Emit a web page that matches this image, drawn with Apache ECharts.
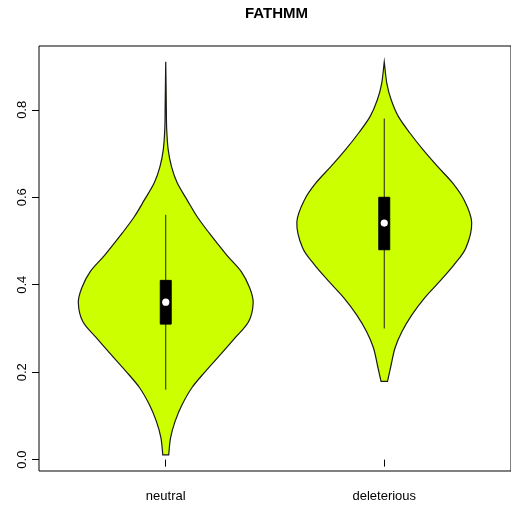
<!DOCTYPE html>
<html><head><meta charset="utf-8">
<script src="https://cdn.jsdelivr.net/npm/echarts@6/dist/echarts.min.js"></script>
<style>html,body{margin:0;padding:0;background:#fff}#c{width:511px;height:512px}</style>
</head><body><div id="c"></div><script>
const categories = ['neutral', 'deleterious'];
const yTickValues = [0, 0.2, 0.4, 0.6, 0.8];
// violin outlines: y values and relative density (max = 1)
const neutralY = [0.011, 0.050, 0.088, 0.126, 0.165, 0.202, 0.240, 0.279, 0.316, 0.359, 0.393, 0.430, 0.469, 0.519, 0.556, 0.594, 0.633, 0.670, 0.709, 0.755, 0.800, 0.850, 0.910];
const neutralDensity = [0.034, 0.055, 0.108, 0.188, 0.301, 0.455, 0.625, 0.795, 0.949, 1.0, 0.960, 0.864, 0.693, 0.494, 0.358, 0.244, 0.131, 0.066, 0.028, 0.011, 0.007, 0.004, 0];
const deleteriousY = [0.179, 0.217, 0.256, 0.293, 0.331, 0.370, 0.407, 0.446, 0.485, 0.543, 0.594, 0.633, 0.670, 0.709, 0.747, 0.785, 0.823, 0.860, 0.910];
const deleteriousDensity = [0.037, 0.079, 0.124, 0.203, 0.316, 0.462, 0.631, 0.800, 0.936, 1.0, 0.913, 0.781, 0.612, 0.443, 0.293, 0.161, 0.079, 0.030, 0];
// box plot statistics
const whiskerLow = [0.16, 0.30];
const whiskerHigh = [0.56, 0.78];
const q1 = [0.31, 0.48];
const q3 = [0.41, 0.60];
const medians = [0.36, 0.541];

const violinY = [neutralY, deleteriousY];
const violinD = [neutralDensity, deleteriousDensity];
const HALF_WIDTH = 0.4;
const BOX_HALF = 0.025;
const FONT = "'Liberation Sans', Arial, Helvetica, sans-serif";

const chart = echarts.init(document.getElementById('c'), null, {renderer: 'canvas'});

// Catmull-Rom spline through pixel points -> SVG cubic segments
function splineSegs(p) {
  let s = '';
  for (let k = 0; k < p.length - 1; k++) {
    const p0 = p[Math.max(k - 1, 0)], p1 = p[k], p2 = p[k + 1], p3 = p[Math.min(k + 2, p.length - 1)];
    const c1x = p1[0] + (p2[0] - p0[0]) / 6, c1y = p1[1] + (p2[1] - p0[1]) / 6;
    const c2x = p2[0] - (p3[0] - p1[0]) / 6, c2y = p2[1] - (p3[1] - p1[1]) / 6;
    s += ' C' + c1x.toFixed(2) + ' ' + c1y.toFixed(2) + ' ' + c2x.toFixed(2) + ' ' + c2y.toFixed(2) + ' ' + p2[0].toFixed(2) + ' ' + p2[1].toFixed(2);
  }
  return s;
}

function renderItem(params, api) {
  const i = params.dataIndex;
  const c = api.value(0);
  const ys = violinY[i], ds = violinD[i];
  const left = [], right = [];
  for (let k = 0; k < ys.length; k++) left.push(api.coord([c - HALF_WIDTH * ds[k], ys[k]]));
  for (let k = ys.length - 1; k >= 0; k--) right.push(api.coord([c + HALF_WIDTH * ds[k], ys[k]]));
  const d = 'M' + left[0][0].toFixed(2) + ' ' + left[0][1].toFixed(2) + splineSegs(left) +
            ' L' + right[0][0].toFixed(2) + ' ' + right[0][1].toFixed(2) + splineSegs(right) + ' Z';
  const lo = api.coord([c, whiskerLow[i]]);
  const hi = api.coord([c, whiskerHigh[i]]);
  const b1 = api.coord([c - BOX_HALF, q3[i]]);
  const b2 = api.coord([c + BOX_HALF, q1[i]]);
  const m = api.coord([c, medians[i]]);
  return {
    type: 'group',
    children: [
      {type: 'path', shape: {pathData: d},
       style: {fill: '#CCFF00', stroke: '#1a1a1a', lineWidth: 1.2}},
      {type: 'line', shape: {x1: lo[0], y1: lo[1], x2: hi[0], y2: hi[1]},
       style: {stroke: '#222', lineWidth: 1}},
      {type: 'rect', shape: {x: b1[0], y: b1[1], width: b2[0] - b1[0], height: b2[1] - b1[1]},
       style: {fill: '#000', stroke: '#000', lineWidth: 1}},
      {type: 'circle', shape: {cx: m[0], cy: m[1], r: 3.6}, style: {fill: '#fff'}}
    ]
  };
}

chart.setOption({
  animation: false,
  backgroundColor: '#fff',
  graphic: [{
    type: 'text', x: 276.5, y: 14,
    style: {text: 'FATHMM', font: 'bold 15px ' + FONT, fill: '#000', align: 'center', verticalAlign: 'middle'}
  }],
  grid: {left: 39, top: 46, width: 475, height: 425, show: true, borderColor: '#000', borderWidth: 1, backgroundColor: 'transparent'},
  xAxis: {
    type: 'value', min: 0.42, max: 2.58,
    axisLine: {show: false}, splitLine: {show: false},
    axisTick: {show: true, customValues: [1, 2], length: 7, inside: false, lineStyle: {color: '#000', width: 1}},
    axisLabel: {customValues: [1, 2], formatter: v => categories[Math.round(v) - 1], fontSize: 13, fontFamily: FONT, color: '#000', margin: 19}
  },
  yAxis: {
    type: 'value', min: -0.026, max: 0.946,
    axisLine: {show: false}, splitLine: {show: false},
    axisTick: {show: true, customValues: yTickValues, length: 7, inside: false, lineStyle: {color: '#000', width: 1}},
    axisLabel: {customValues: yTickValues, rotate: 90, formatter: v => v.toFixed(1), fontSize: 13, fontFamily: FONT, color: '#000', margin: 10}
  },
  series: [{
    type: 'custom',
    renderItem: renderItem,
    encode: {x: 0},
    data: categories.map((name, i) => [i + 1]),
    clip: false
  }]
});
</script></body></html>
